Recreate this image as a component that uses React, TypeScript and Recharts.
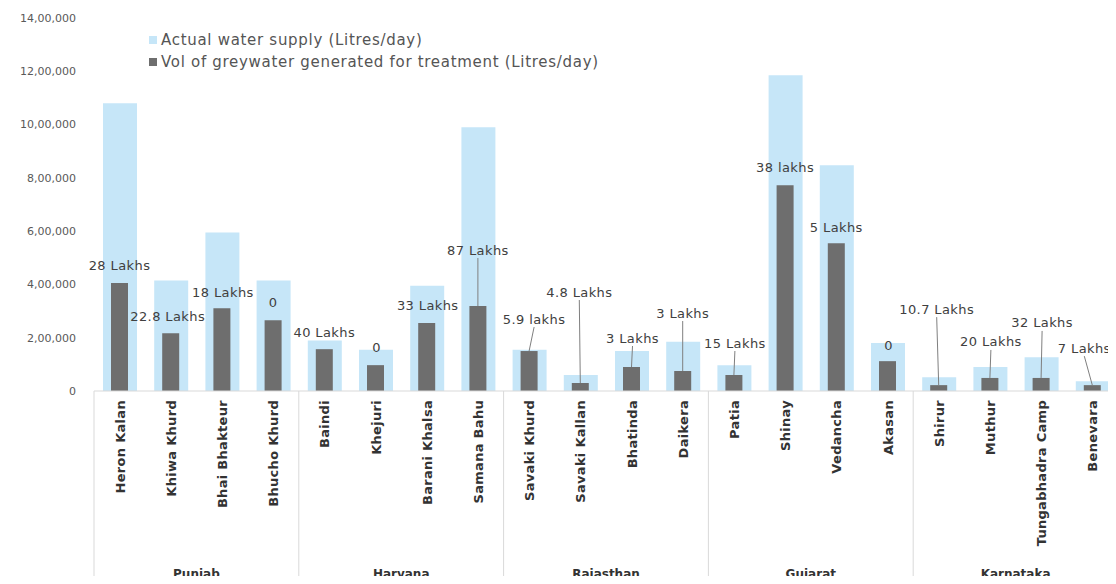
import { BarChart, Bar, XAxis, YAxis, Legend, LabelList } from "recharts";

const villages = [
  "Heron Kalan", "Khiwa Khurd", "Bhai Bhakteur", "Bhucho Khurd",
  "Baindi", "Khejuri", "Barani Khalsa", "Samana Bahu",
  "Savaki Khurd", "Savaki Kallan", "Bhatinda", "Daikera",
  "Patia", "Shinay", "Vedancha", "Akasan",
  "Shirur", "Muthur", "Tungabhadra Camp", "Benevara",
];
const states = ["Punjab", "Haryana", "Rajasthan", "Gujarat", "Karnataka"];

const actualSupply = [
  1080000, 415000, 595000, 415000,
  190000, 155000, 395000, 990000,
  155000, 60000, 150000, 185000,
  97000, 1185000, 847000, 180000,
  52000, 90000, 127000, 37000,
];
const greywater = [
  405000, 217000, 311000, 266000,
  157000, 97000, 255000, 319000,
  150000, 30000, 90000, 75000,
  60000, 772000, 555000, 112000,
  22000, 49000, 49000, 22000,
];
const capacityLabels = [
  "28 Lakhs", "22.8 Lakhs", "18 Lakhs", "0",
  "40 Lakhs", "0", "33 Lakhs", "87 Lakhs",
  "5.9 lakhs", "4.8 Lakhs", "3 Lakhs", "3 Lakhs",
  "15 Lakhs", "38 lakhs", "5 Lakhs", "0",
  "10.7 Lakhs", "20 Lakhs", "32 Lakhs", "7 Lakhs",
];
const yTicks = [0, 200000, 400000, 600000, 800000, 1000000, 1200000, 1400000];

// where each label sits relative to the top of its grey bar (px)
const labelDx = [0, -3, 1, 0, 0, 1, 1, 0, 5, -1, 1, 0, 1, 0, 0, 1, -2, 1, 1, -8];
const labelLift = [18, 17, 16, 18, 17, 18, 18, 56, 32, 91, 29, 58, 32, 18, 16, 16, 76, 36, 55, 37];
const labelLeader = [
  false, false, false, false, false, false, false, true, true, true,
  true, true, true, false, false, false, true, true, true, true,
];

const data = villages.map((v, i) => ({
  village: v,
  actual: actualSupply[i],
  grey: greywater[i],
}));

function indianFormat(v: number) {
  const s = String(v);
  if (s.length <= 3) return s;
  const last3 = s.slice(-3);
  let rest = s.slice(0, -3);
  const parts: string[] = [];
  while (rest.length > 2) {
    parts.unshift(rest.slice(-2));
    rest = rest.slice(0, -2);
  }
  if (rest) parts.unshift(rest);
  return parts.join(",") + "," + last3;
}

const VillageTick = (props: any) => {
  const { x, y, payload, index } = props;
  const half = payload.offset || 25.6;
  const i = payload.index ?? index;
  return (
    <g>
      <text
        transform={`translate(${x + 5},${y + 9}) rotate(-90)`}
        textAnchor="end"
        fontSize={13}
        fontWeight="bold"
        letterSpacing={0.3}
        fill="#333"
      >
        {payload.value}
      </text>
      {i % 4 === 0 && (
        <g>
          <line x1={x - half} x2={x - half} y1={y} y2={y + 193} stroke="#d9d9d9" />
          <text x={x + 3 * half} y={y + 187} textAnchor="middle" fontSize={12} fontWeight="bold" fill="#333">
            {states[i / 4]}
          </text>
        </g>
      )}
    </g>
  );
};

const ValueLabel = (props: any) => {
  const { x, y, width, index } = props;
  const cx = x + width / 2;
  const lx = cx + labelDx[index];
  const ly = y - labelLift[index];
  return (
    <g>
      {labelLeader[index] && (
        <line x1={lx} y1={ly + 8} x2={cx} y2={y} stroke="#7f7f7f" strokeWidth={1} />
      )}
      <text x={lx} y={ly} dy="0.35em" textAnchor="middle" fontSize={13} letterSpacing={0.4} fill="#404040">
        {capacityLabels[index]}
      </text>
    </g>
  );
};

const LegendBox = ({ payload }: any) => (
  <div>
    {(payload || []).map((p: any) => (
      <div
        key={p.value}
        style={{ display: "flex", alignItems: "center", height: 22, fontSize: 15, letterSpacing: 0.7, color: "#555" }}
      >
        <span style={{ width: 8, height: 8, background: p.color, marginRight: 4, display: "inline-block" }} />
        {p.value}
      </div>
    ))}
  </div>
);

export default function App() {
  return (
    <div
      style={{
        position: "relative",
        margin: -8,
        width: 1116,
        height: 584,
        overflow: "hidden",
        background: "#fff",
        fontFamily: "'DejaVu Sans', sans-serif",
      }}
    >
      <BarChart width={1122} height={584} data={data} margin={{ top: 18, right: 4, left: 0, bottom: 0 }}>
        <XAxis
          xAxisId="main"
          dataKey="village"
          interval={0}
          height={193}
          tickSize={0}
          tickMargin={0}
          tick={<VillageTick />}
          axisLine={{ stroke: "#d9d9d9" }}
          tickLine={false}
        />
        <XAxis xAxisId="bg" dataKey="village" hide height={0} />
        <YAxis
          width={94}
          domain={[0, 1400000]}
          ticks={yTicks}
          tickFormatter={indianFormat}
          axisLine={false}
          tickLine={false}
          tickSize={0}
          tickMargin={18}
          tick={{ fontSize: 11, fill: "#595959" }}
        />
        <Legend
          layout="vertical"
          align="center"
          verticalAlign="middle"
          wrapperStyle={{ top: 29, left: 149, width: 560 }}
          content={<LegendBox />}
        />
        <Bar
          xAxisId="bg"
          dataKey="actual"
          name="Actual water supply (Litres/day)"
          fill="#c6e6f8"
          barSize={34}
          isAnimationActive={false}
        />
        <Bar
          xAxisId="main"
          dataKey="grey"
          name="Vol of greywater generated for treatment (Litres/day)"
          fill="#6e6e6e"
          barSize={17}
          isAnimationActive={false}
        >
          <LabelList dataKey="grey" content={<ValueLabel />} />
        </Bar>
      </BarChart>
    </div>
  );
}
